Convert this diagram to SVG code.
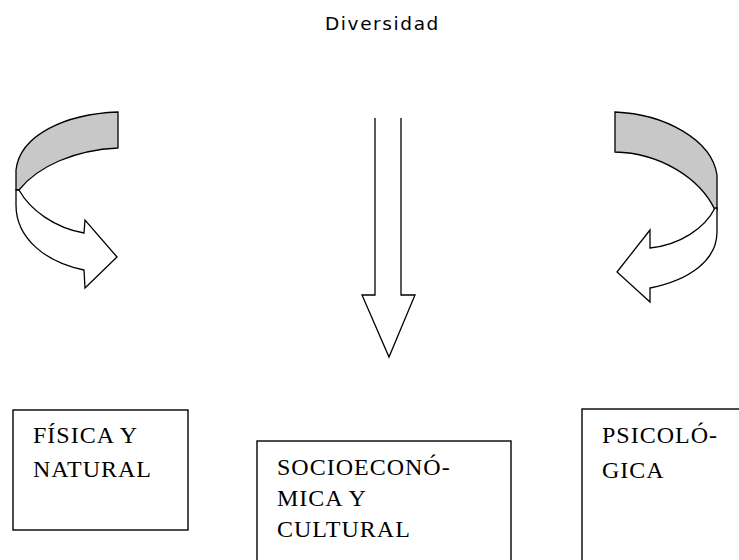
<svg xmlns="http://www.w3.org/2000/svg" width="739" height="560" viewBox="0 0 739 560">
<style>
.ln{stroke:#000;stroke-width:1.3;stroke-linejoin:miter;fill:#fff}
.gr{stroke:#000;stroke-width:1.3;fill:#c8c8c8}
.box{stroke:#000;stroke-width:1.4;fill:#fff}
.t{font-family:"Liberation Serif","Times New Roman",serif;font-size:24px;letter-spacing:1px;fill:#000}
.title{font-family:"DejaVu Sans","Liberation Sans",sans-serif;font-size:18.5px;letter-spacing:1.6px;fill:#000}
</style>
<rect width="739" height="560" fill="#fff"/>
<text class="title" x="325" y="30">Diversidad</text>
<g id="connectors">
<g id="arrow-left">
<path class="gr" d="M118,112 C65,114 20,135 16,170 L16,190 L19,190 C38,166 75,150 118,148 Z"/>
<path class="ln" d="M19,190 C30,210 55,228 84,233 L85,220 L117,257 L85,288 L84,270 C45,262 16,238 16,205 L16,190 Z"/>
</g>
<g id="arrow-center">
<path class="ln" d="M375,118 L375,295 L362,295 L389,357 L415,295 L401,295 L401,118"/>
</g>
<g id="arrow-right">
<path class="gr" d="M615,112 C665,114 712,140 717,175 L717,210 L715,210 C700,178 660,153 615,152 Z"/>
<path class="ln" d="M715,208 C705,228 680,245 650,248 L650,230 L617,272 L650,302 L650,288 C690,280 717,260 717,232 L717,208 Z"/>
</g>
</g>
<g id="node-fisica">
<rect class="box" x="13" y="410" width="175" height="120"/>
<text class="t" x="33" y="443">FÍSICA Y</text>
<text class="t" x="33" y="477">NATURAL</text>
</g>
<g id="node-socio">
<rect class="box" x="257" y="441" width="254" height="130"/>
<text class="t" x="277" y="475">SOCIOECONÓ-</text>
<text class="t" x="277" y="506">MICA Y</text>
<text class="t" x="277" y="537">CULTURAL</text>
</g>
<g id="node-psico">
<rect class="box" x="582" y="409" width="170" height="170"/>
<text class="t" x="602" y="443">PSICOLÓ-</text>
<text class="t" x="602" y="478">GICA</text>
</g>
</svg>
